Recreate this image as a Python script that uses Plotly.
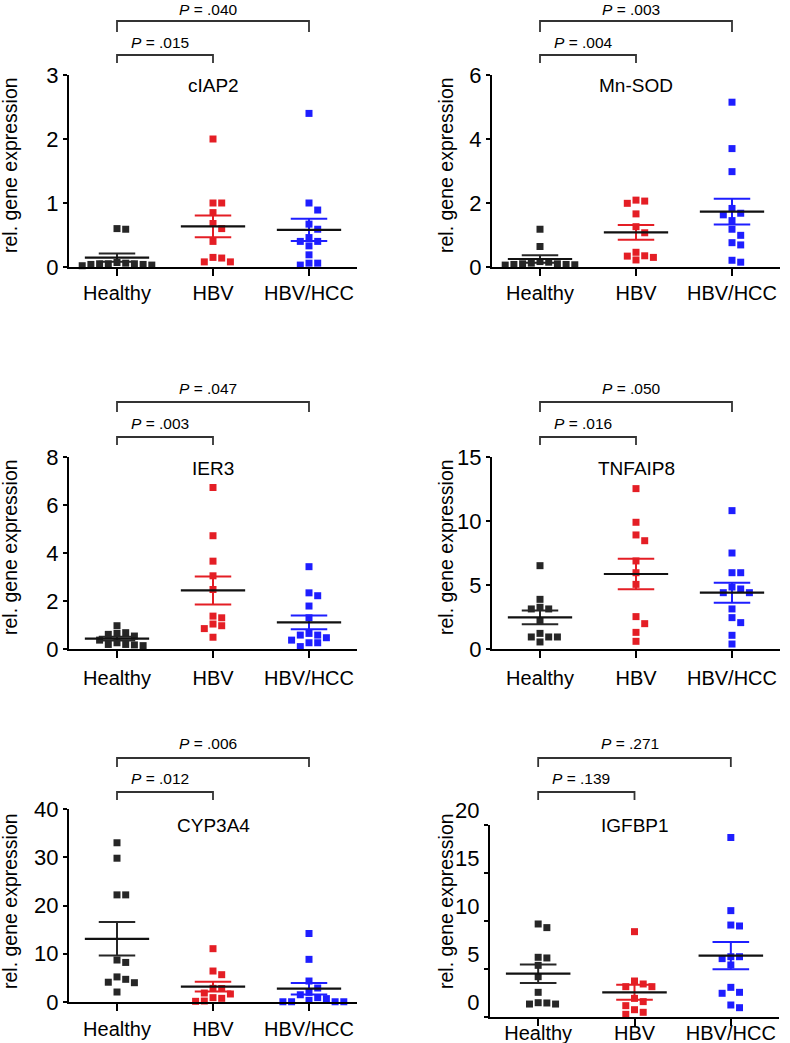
import plotly.graph_objects as go

W, H = 790, 1043

groups = ["Healthy", "HBV", "HBV/HCC"]
genes = ["cIAP2", "Mn-SOD", "IER3", "TNFAIP8", "CYP3A4", "IGFBP1"]

# ---- data (relative gene expression) ----
cIAP2_healthy = [0.60, 0.59, 0.07, 0.05, 0.05, 0.04, 0.03, 0.06, 0.02, 0.05, 0.04]
cIAP2_hbv = [2.0, 1.0, 1.0, 0.85, 0.68, 0.60, 0.40, 0.14, 0.08, 0.08, 0.15]
cIAP2_hcc = [2.4, 1.0, 0.89, 0.67, 0.59, 0.46, 0.40, 0.40, 0.33, 0.19, 0.06, 0.06, 0.03]

mnsod_healthy = [1.18, 0.64, 0.17, 0.15, 0.12, 0.10, 0.08, 0.06, 0.10, 0.07, 0.08]
mnsod_hbv = [2.06, 1.99, 2.09, 1.66, 1.26, 1.07, 0.46, 0.34, 0.22, 0.30, 0.35]
mnsod_hcc = [5.15, 3.70, 2.98, 1.83, 1.63, 1.68, 1.45, 1.18, 0.99, 0.76, 0.69, 0.15, 0.21]

ier3_healthy = [0.97, 0.68, 0.61, 0.54, 0.65, 0.37, 0.26, 0.19, 0.14, 0.19, 0.17]
ier3_hbv = [6.73, 4.72, 3.66, 3.05, 2.48, 1.30, 1.37, 1.04, 0.97, 0.85, 0.49]
ier3_hcc = [3.43, 2.34, 2.22, 1.79, 1.30, 0.65, 0.58, 0.58, 0.47, 0.37, 0.26, 0.26, 0.10]

tnfaip8_healthy = [6.51, 3.88, 3.13, 3.13, 3.26, 2.19, 0.94, 0.94, 0.94, 1.22, 0.55]
tnfaip8_hbv = [12.53, 9.90, 8.91, 8.46, 6.88, 5.96, 5.05, 2.53, 1.98, 1.30, 0.60]
tnfaip8_hcc = [10.81, 7.50, 5.96, 5.96, 4.84, 4.69, 4.40, 4.40, 3.13, 2.45, 2.06, 1.07, 0.39]

cyp3a4_healthy = [33.0, 29.8, 22.2, 22.2, 8.2, 8.7, 4.7, 4.1, 5.2, 4.0, 2.07]
cyp3a4_hbv = [11.05, 6.42, 5.66, 2.83, 2.80, 1.66, 1.86, 0.76, 0.14, 0.20, 0.90]
cyp3a4_hcc = [14.2, 8.84, 4.35, 2.9, 2.0, 1.5, 0.9, 0.35, 0.05, 0.05, 0.05, 0.05, 0.7]

igfbp1_healthy = [9.69, 9.31, 6.15, 6.22, 5.38, 4.20, 2.57, 1.46, 1.35, 1.35, 1.49]
igfbp1_hbv = [8.89, 3.75, 3.44, 3.16, 3.16, 1.94, 1.60, 1.18, 0.76, 0.28, 0.49]
igfbp1_hcc = [18.7, 11.08, 9.58, 9.48, 6.28, 6.08, 6.28, 5.42, 2.57, 2.47, 3.09, 0.97, 1.25]

# mean and SEM per group (Healthy, HBV, HBV/HCC)
cIAP2_mean, cIAP2_sem = [0.146, 0.635, 0.58], [0.065, 0.17, 0.175]
mnsod_mean, mnsod_sem = [0.25, 1.08, 1.73], [0.12, 0.23, 0.40]
ier3_mean, ier3_sem = [0.43, 2.44, 1.11], [0.08, 0.585, 0.285]
tnfaip8_mean, tnfaip8_sem = [2.47, 5.86, 4.40], [0.535, 1.185, 0.78]
cyp3a4_mean, cyp3a4_sem = [13.1, 3.18, 2.76], [3.47, 1.0, 1.2]
igfbp1_mean, igfbp1_sem = [4.51, 2.57, 6.39], [0.96, 0.78, 1.41]

p_vs_hbv = [".015", ".004", ".003", ".016", ".012", ".139"]
p_vs_hcc = [".040", ".003", ".047", ".050", ".006", ".271"]
y_max = [3, 6, 8, 15, 40, 20]
y_dtick = [1, 2, 2, 5, 10, 5]

panel_data = [
    ([cIAP2_healthy, cIAP2_hbv, cIAP2_hcc], cIAP2_mean, cIAP2_sem),
    ([mnsod_healthy, mnsod_hbv, mnsod_hcc], mnsod_mean, mnsod_sem),
    ([ier3_healthy, ier3_hbv, ier3_hcc], ier3_mean, ier3_sem),
    ([tnfaip8_healthy, tnfaip8_hbv, tnfaip8_hcc], tnfaip8_mean, tnfaip8_sem),
    ([cyp3a4_healthy, cyp3a4_hbv, cyp3a4_hcc], cyp3a4_mean, cyp3a4_sem),
    ([igfbp1_healthy, igfbp1_hbv, igfbp1_hcc], igfbp1_mean, igfbp1_sem),
]

# ---- styles / layout geometry (pixels) ----
colors = ["#262626", "#e41e25", "#1e1eff"]
sem_colors = ["#262626", "#e41e25", "#1e1eff"]
SANS = "Liberation Sans, Arial, sans-serif"

geom = [
    dict(x0=69, x1=357, top=75, bot=267, title_y=85, blo=55, blo_t=63, bhi=21, bhi_t=32, tlo=43, thi=9, yt_x=10, yt_y=165, stand=0, shift=0),
    dict(x0=492, x1=780, top=75, bot=267, title_y=85, blo=55, blo_t=63, bhi=21, bhi_t=32, tlo=43, thi=9, yt_x=446, yt_y=165, stand=0, shift=0),
    dict(x0=69, x1=357, top=457, bot=649, title_y=468, blo=437, blo_t=445, bhi=402, bhi_t=412, tlo=423, thi=388, yt_x=10, yt_y=547, stand=3, shift=0),
    dict(x0=492, x1=780, top=457, bot=649, title_y=468, blo=437, blo_t=445, bhi=402, bhi_t=412, tlo=423, thi=388, yt_x=446, yt_y=547, stand=3, shift=0),
    dict(x0=69, x1=357, top=809, bot=1002, title_y=825, blo=792, blo_t=800, bhi=758, bhi_t=767, tlo=778, thi=743, yt_x=10, yt_y=901, stand=1, shift=0),
    dict(x0=490, x1=779, top=825, bot=1017, title_y=825, blo=792, blo_t=800, bhi=758, bhi_t=767, tlo=778, thi=743, yt_x=446, yt_y=901, stand=-10, shift=-15),
]

SLOT = 8.7   # px between jittered markers
MSIZE = 7


def py(p):
    return 1 - p / H


def px(p):
    return p / W


def swarm(vals, ppu):
    """Simple beeswarm: offsets (px) so that square markers do not overlap."""
    order = sorted(range(len(vals)), key=lambda i: -vals[i])
    placed = []
    offs = [0.0] * len(vals)
    for i in order:
        y = vals[i] * ppu
        for k in [0, 1, -1, 2, -2, 3, -3, 4, -4, 5, -5]:
            dx = k * SLOT
            ok = all(not (abs(dx - a) < SLOT - 0.5 and abs(y - b) < MSIZE + 0.5) for a, b in placed)
            if ok:
                break
        placed.append((dx, y))
        offs[i] = dx
    return offs


fig = go.Figure()
layout = dict(
    width=W, height=H, margin=dict(l=0, r=0, t=0, b=0, autoexpand=False),
    paper_bgcolor="white", plot_bgcolor="white", showlegend=False,
    annotations=[], shapes=[],
)

for n, g in enumerate(geom):
    sfx = "" if n == 0 else str(n + 1)
    xa, ya = "x" + sfx, "y" + sfx
    vals_list, means, sems = panel_data[n]
    ppu_y = (g["bot"] - g["top"]) / y_max[n]
    ppu_x = (g["x1"] - g["x0"]) / 3.0

    # points
    for gi, vals in enumerate(vals_list):
        offs = swarm(vals, ppu_y)
        fig.add_trace(go.Scatter(
            x=[gi + o / ppu_x for o in offs], y=vals, mode="markers",
            marker=dict(symbol="square", size=MSIZE, color=colors[gi], line=dict(width=0)),
            xaxis=xa, yaxis=ya, cliponaxis=False, hoverinfo="skip",
        ))
    # SEM bars and mean lines
    for gi in range(3):
        m, s = means[gi], sems[gi]
        cw = 0.19
        fig.add_trace(go.Scatter(
            x=[gi, gi, None, gi - cw, gi + cw, None, gi - cw, gi + cw],
            y=[m - s, m + s, None, m + s, m + s, None, m - s, m - s],
            mode="lines", line=dict(color=sem_colors[gi], width=2),
            xaxis=xa, yaxis=ya, cliponaxis=False, hoverinfo="skip",
        ))
        fig.add_trace(go.Scatter(
            x=[gi - 0.335, gi + 0.335], y=[m, m], mode="lines",
            line=dict(color="#111111", width=2.2),
            xaxis=xa, yaxis=ya, cliponaxis=False, hoverinfo="skip",
        ))

    layout["xaxis" + sfx] = dict(
        domain=[px(g["x0"]), px(g["x1"])], anchor=ya, range=[-0.5, 2.5],
        tickmode="array", tickvals=[0, 1, 2], ticktext=groups,
        showline=True, linecolor="black", linewidth=2,
        ticks="outside", ticklen=7, tickwidth=1.5, tickcolor="black",
        tickfont=dict(family=SANS, size=20, color="black"),
        ticklabelstandoff=g["stand"],
        showgrid=False, zeroline=False, fixedrange=True,
    )
    layout["yaxis" + sfx] = dict(
        domain=[py(g["bot"]), py(g["top"])], anchor=xa, range=[0, y_max[n]],
        tick0=0, dtick=y_dtick[n],
        showline=True, linecolor="black", linewidth=2,
        ticks="outside", ticklen=4, tickwidth=1.5, tickcolor="black",
        tickfont=dict(family=SANS, size=22, color="black"),
        ticklabelshift=g["shift"],
        showgrid=False, zeroline=False, fixedrange=True,
    )

    # gene title
    layout["annotations"].append(dict(
        x=1, xref=xa, y=py(g["title_y"]), yref="paper", text=genes[n],
        showarrow=False, xanchor="center", yanchor="middle",
        font=dict(family=SANS, size=19, color="black"),
    ))
    # y-axis title
    layout["annotations"].append(dict(
        x=px(g["yt_x"]), xref="paper", y=py(g["yt_y"]), yref="paper",
        text="rel. gene expression", textangle=-90, showarrow=False,
        xanchor="center", yanchor="middle",
        font=dict(family=SANS, size=19.5, color="black"),
    ))
    # significance brackets
    for (xe, ybar, ytick, ytxt, ptxt) in [
        (1, g["blo"], g["blo_t"], g["tlo"], p_vs_hbv[n]),
        (2, g["bhi"], g["bhi_t"], g["thi"], p_vs_hcc[n]),
    ]:
        layout["shapes"].append(dict(
            type="path", xref=xa, yref="paper",
            path=f"M 0,{py(ytick)} L 0,{py(ybar)} L {xe},{py(ybar)} L {xe},{py(ytick)}",
            line=dict(color="#333333", width=1.8),
        ))
        layout["annotations"].append(dict(
            x=xe / 2, xref=xa, y=py(ytxt), yref="paper", xshift=-5,
            text=f"<i>P</i> = {ptxt}", showarrow=False,
            xanchor="center", yanchor="middle",
            font=dict(family=SANS, size=15.5, color="black"),
        ))

fig.update_layout(**layout)
fig.write_html(
    "out.html",
    config={"displayModeBar": False},
    post_script="document.body.style.margin='0';document.body.style.overflow='hidden';",
)
